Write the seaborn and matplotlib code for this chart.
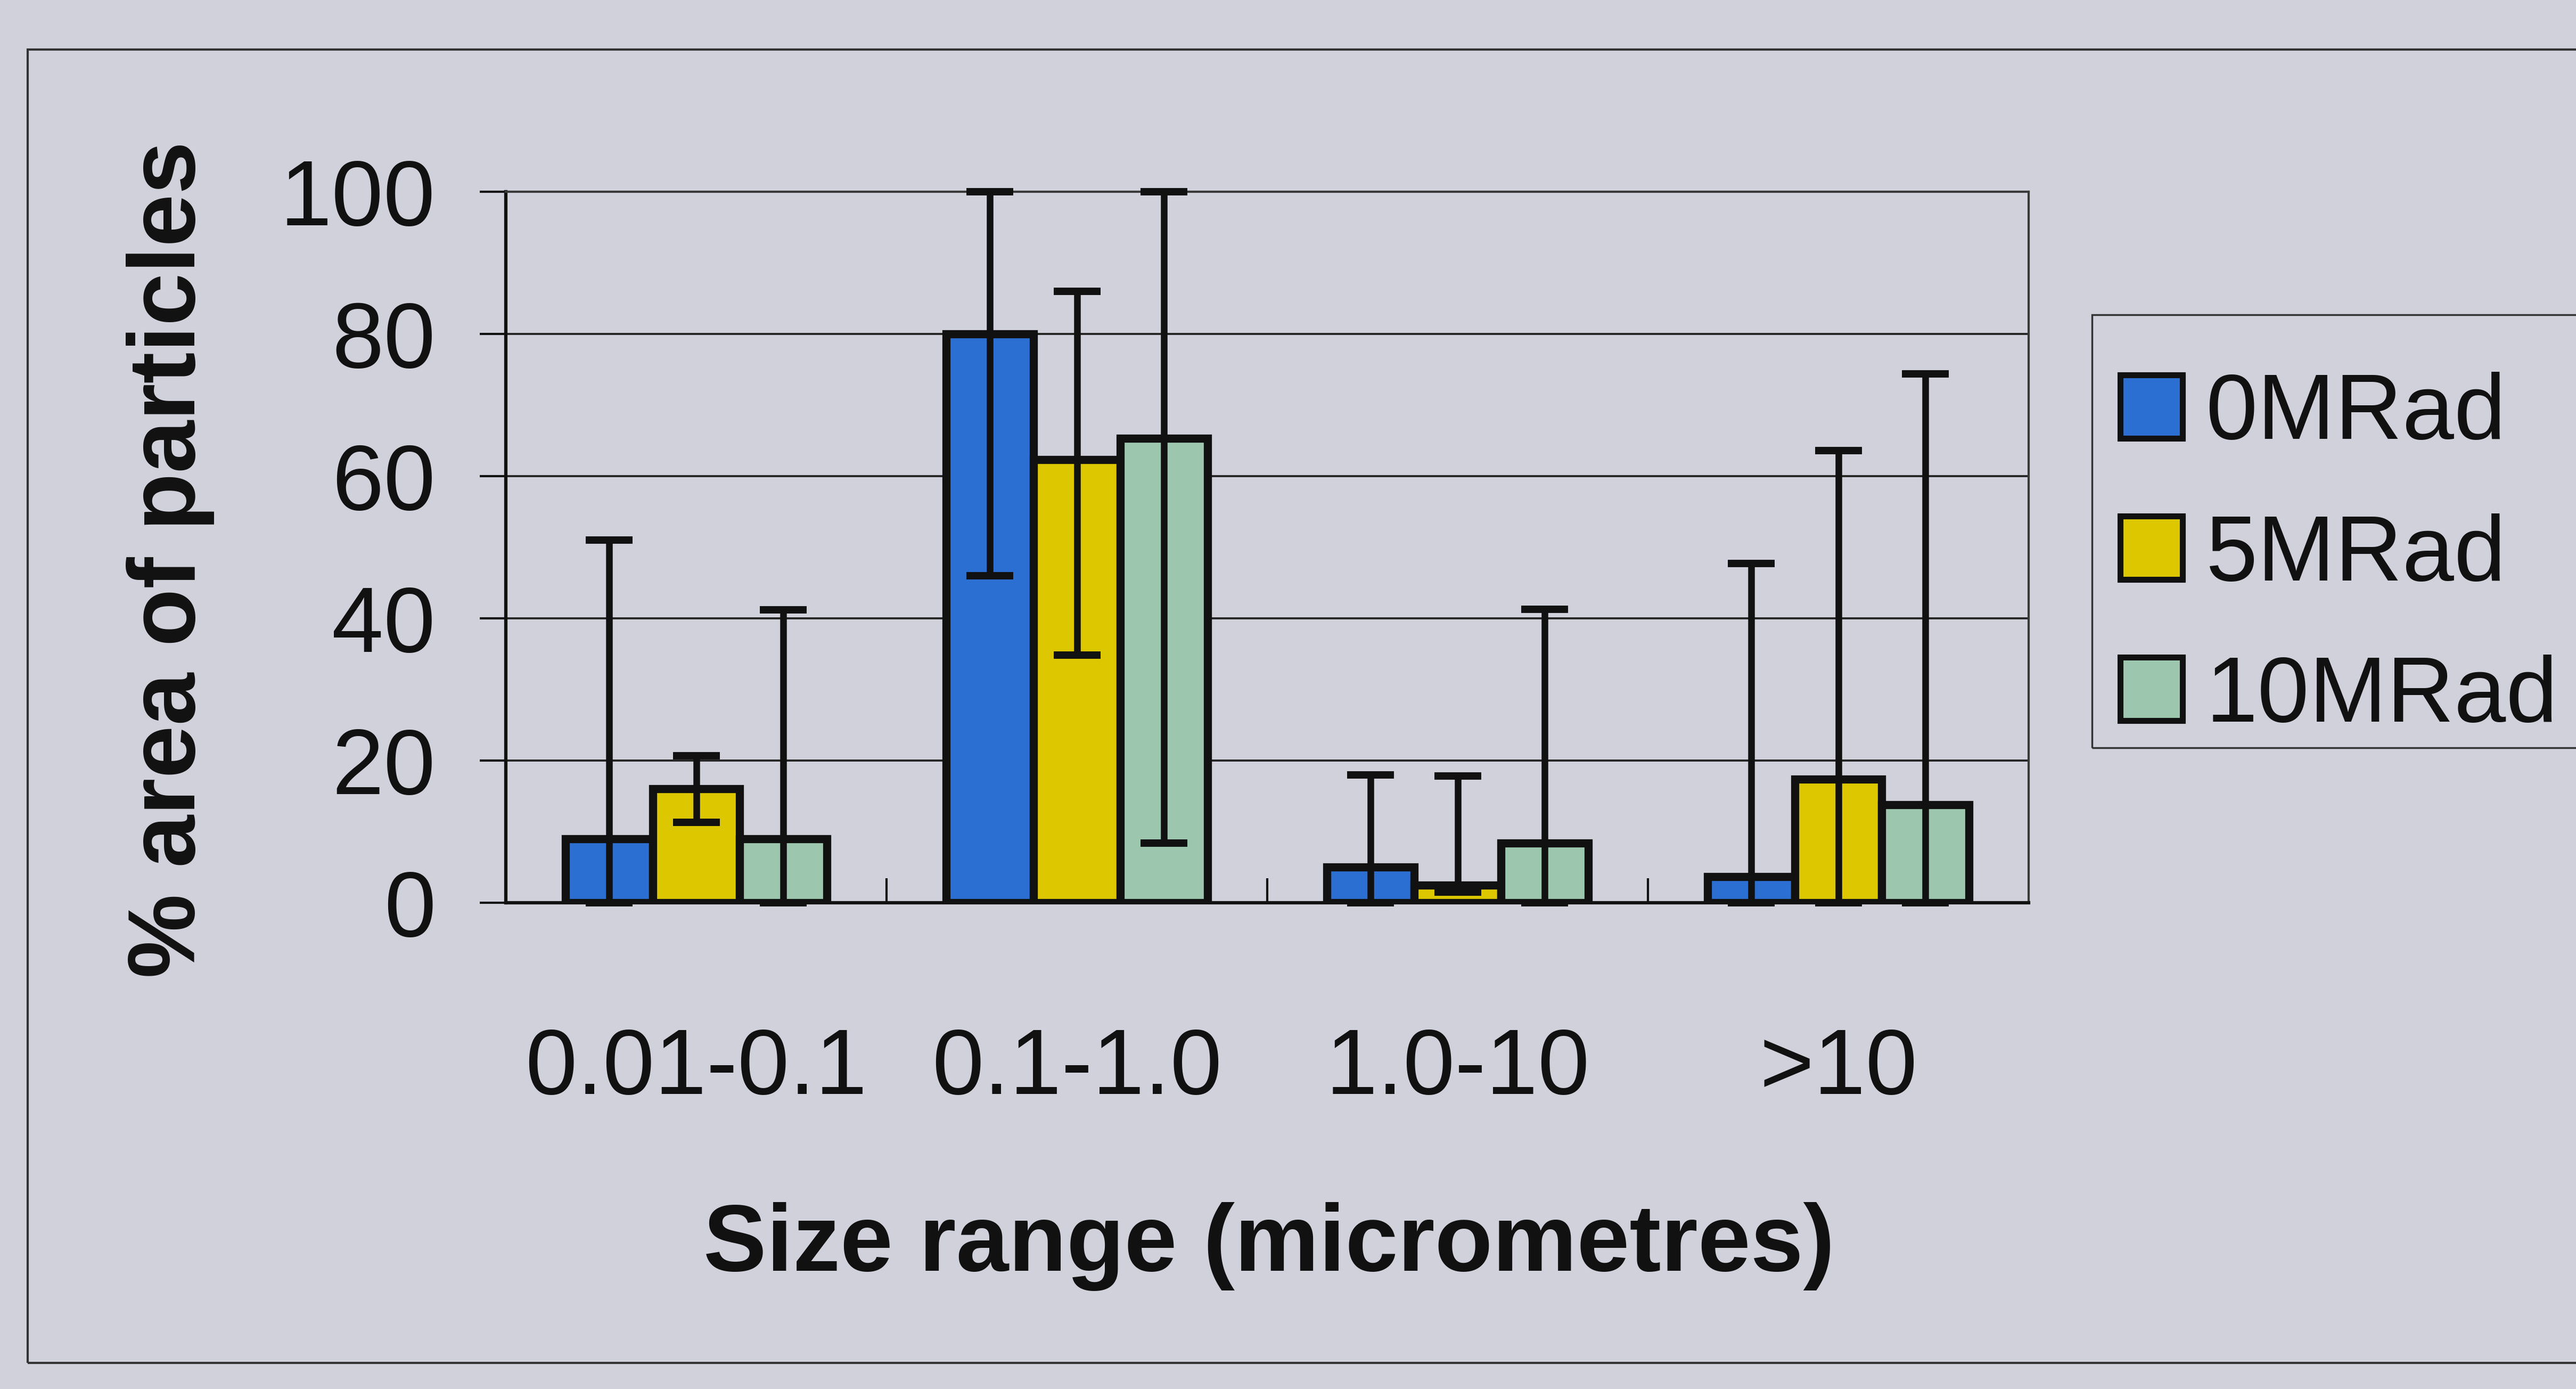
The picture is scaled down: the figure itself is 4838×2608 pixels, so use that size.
import numpy as np
import pandas as pd
import matplotlib
matplotlib.use("Agg")
import matplotlib.pyplot as plt
from matplotlib.patches import Patch, Rectangle
import seaborn as sns

# ---- data -------------------------------------------------------------
size_ranges = ["0.01-0.1", "0.1-1.0", "1.0-10", ">10"]
doses = ["0MRad", "5MRad", "10MRad"]

area_0mrad = [9.0, 80.0, 5.0, 3.7]
area_5mrad = [16.0, 62.3, 2.5, 17.4]
area_10mrad = [9.0, 65.3, 8.4, 13.8]

# asymmetric error bars (below, above)
err_lo_0mrad = [9.0, 34.0, 5.0, 3.7]
err_hi_0mrad = [42.0, 20.0, 13.0, 44.0]
err_lo_5mrad = [4.7, 27.5, 1.0, 17.4]
err_hi_5mrad = [4.7, 23.7, 15.3, 46.2]
err_lo_10mrad = [9.0, 56.9, 8.4, 13.8]
err_hi_10mrad = [32.2, 34.7, 32.9, 60.6]

yticks = [0, 20, 40, 60, 80, 100]

colors = ["#2c6fd2", "#dcc700", "#9cc7ae"]
bg = "#d1d1dc"
ink = "#111111"

values = [area_0mrad, area_5mrad, area_10mrad]
err_lo = [err_lo_0mrad, err_lo_5mrad, err_lo_10mrad]
err_hi = [err_hi_0mrad, err_hi_5mrad, err_hi_10mrad]

df = pd.DataFrame({
    "size": np.tile(size_ranges, len(doses)),
    "dose": np.repeat(doses, len(size_ranges)),
    "pct": np.concatenate(values),
})

# ---- style ------------------------------------------------------------
sns.set_theme(style="white")
plt.rcParams["font.family"] = ["Liberation Sans", "DejaVu Sans"]
plt.rcParams["text.color"] = ink
plt.rcParams["xtick.labelcolor"] = ink
plt.rcParams["ytick.labelcolor"] = ink

W, H, DPI = 4838, 2608, 100
fig = plt.figure(figsize=(W / DPI, H / DPI), dpi=DPI, facecolor=bg)
ax = fig.add_axes([950 / W, 1 - 1695 / H, (3810 - 950) / W, (1695 - 360) / H])
ax.set_facecolor(bg)

sns.barplot(data=df, x="size", y="pct", hue="dose", order=size_ranges,
            hue_order=doses, palette=colors, width=0.687, gap=0,
            edgecolor=ink, linewidth=11, errorbar=None,
            saturation=1, legend=False, ax=ax, zorder=3)

# error bars centred on each drawn bar
for cont, lo, hi in zip(ax.containers, err_lo, err_hi):
    xs = [b.get_x() + b.get_width() / 2 for b in cont]
    ys = [b.get_height() for b in cont]
    ax.errorbar(xs, ys, yerr=[lo, hi], fmt="none", ecolor=ink,
                elinewidth=9, capsize=32, capthick=10, zorder=4,
                clip_on=False)

ax.set_ylim(0, 100)
ax.set_yticks(yticks)
ax.set_xlim(-0.5, 3.5)
ax.set_xlabel("")
ax.set_ylabel("")

ax.yaxis.grid(True, color="#262626", linewidth=2.8)
ax.set_axisbelow(True)

for side in ["left", "bottom"]:
    ax.spines[side].set_color(ink)
    ax.spines[side].set_linewidth(4.5)
for side in ["top", "right"]:
    ax.spines[side].set_color("#3a3a3a")
    ax.spines[side].set_linewidth(3)
ax.spines["top"].set_visible(True)
ax.spines["right"].set_visible(True)

ax.tick_params(axis="y", which="major", direction="out", length=35, width=3,
               color=ink, labelcolor=ink, pad=60, labelsize=126, left=True)
ax.tick_params(axis="x", which="major", length=0, pad=168, labelsize=126,
               labelcolor=ink)
ax.set_xticks([0.5, 1.5, 2.5], minor=True)
ax.tick_params(axis="x", which="minor", direction="in", length=33, width=3,
               color=ink, bottom=True)

# axis titles
fig.text(2383 / W, 1 - 2340 / H, "Size range (micrometres)", ha="center",
         va="center", fontsize=128, fontweight="bold", color=ink)
fig.text(320 / W, 1 - 1050 / H, "% area of particles", ha="center",
         va="center", rotation=90, fontsize=128, fontweight="bold",
         color=ink)

# legend: frame drawn as its own box behind the axes, entries placed inside
fig.patches.append(Rectangle((3929 / W, 1 - 1404 / H), 1.0, (1404 - 591) / H,
                             transform=fig.transFigure, fill=False,
                             edgecolor="#333333", linewidth=2.5, zorder=-1))
handles = [Patch(facecolor=c, edgecolor=ink, linewidth=8, label=d)
           for c, d in zip(colors, doses)]
leg = ax.legend(handles=handles, loc="upper left",
                bbox_to_anchor=(3929 / W, 1 - 646 / H),
                bbox_transform=fig.transFigure, fontsize=126,
                handlelength=0.67, handleheight=0.67, handletextpad=0.25,
                labelspacing=0.59, borderpad=0.3, borderaxespad=0,
                frameon=False, labelcolor=ink)
leg.set_clip_on(False)

# outer chart frame
fig.patches.append(Rectangle((52 / W, 1 - 2559 / H), 1.2, (2559 - 93) / H,
                             transform=fig.transFigure, fill=False,
                             edgecolor="#333333", linewidth=3, zorder=-1))

fig.savefig("out.png", dpi=DPI, facecolor=bg)
